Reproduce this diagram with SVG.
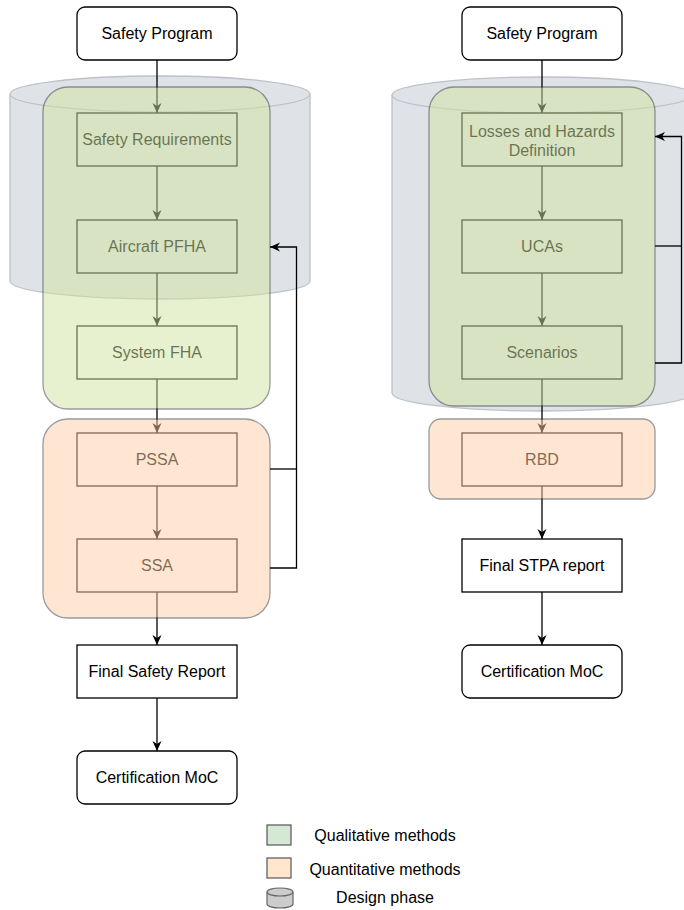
<svg xmlns="http://www.w3.org/2000/svg" width="684" height="910" viewBox="0 0 684 910">
<defs>
<style>
.box{fill:#fff;stroke:#000;stroke-width:1.3}
.inner{fill:none;stroke:#000;stroke-width:1.3}
.t{font-family:"Liberation Sans",Arial,Helvetica,sans-serif;font-size:16px;fill:#000;text-anchor:middle}
.edge{fill:none;stroke:#000;stroke-width:1.3}
.qual{fill:#d1e4a0;stroke:#36393d;stroke-width:1.3}
.quant{fill:#ffcfa6;stroke:#36393d;stroke-width:1.3}
.cyl{fill:#dfe3e8;stroke:#bcc2c9;stroke-width:1.3}
.cylf{fill:none;stroke:#bcc2c9;stroke-width:1.3}
</style>
<marker id="arr" viewBox="0 0 10 10" refX="10" refY="5" markerWidth="10" markerHeight="10" markerUnits="userSpaceOnUse" orient="auto">
<path d="M0,0.5 L10,5 L0,9.5 L3,5 Z" fill="#000"/>
</marker>
</defs>
<rect width="684" height="910" fill="#fff"/>

<g id="left-design-phase">
<path class="cyl" d="M10,94 A150,18 0 0 1 310,94 V281 A150,18 0 0 1 10,281 Z"/>
<path class="cylf" d="M10,94 A150,18 0 0 0 310,94"/>
</g>
<g id="right-design-phase">
<path class="cyl" d="M392,95 A150,18 0 0 1 692,95 V393 A150,18 0 0 1 392,393 Z"/>
<path class="cylf" d="M392,95 A150,18 0 0 0 692,95"/>
</g>

<g id="connectors-flow">
<path class="edge" d="M157,60 V113" marker-end="url(#arr)"/>
<path class="edge" d="M157,166 V220" marker-end="url(#arr)"/>
<path class="edge" d="M157,273 V326" marker-end="url(#arr)"/>
<path class="edge" d="M157,379 V433" marker-end="url(#arr)"/>
<path class="edge" d="M157,486 V539" marker-end="url(#arr)"/>
<path class="edge" d="M157,592 V645" marker-end="url(#arr)"/>
<path class="edge" d="M157,698 V751" marker-end="url(#arr)"/>
<path class="edge" d="M542,60 V113" marker-end="url(#arr)"/>
<path class="edge" d="M542,166 V220" marker-end="url(#arr)"/>
<path class="edge" d="M542,273 V326" marker-end="url(#arr)"/>
<path class="edge" d="M542,379 V433" marker-end="url(#arr)"/>
<path class="edge" d="M542,486 V539" marker-end="url(#arr)"/>
<path class="edge" d="M542,592 V645" marker-end="url(#arr)"/>
</g>

<g id="left-safety-program"><rect class="box" x="77" y="7" width="160" height="53" rx="8"/><text class="t" x="157" y="39">Safety Program</text></g>
<g id="safety-requirements"><rect class="inner" x="77" y="113" width="160" height="53"/><text class="t" x="157" y="145">Safety Requirements</text></g>
<g id="aircraft-pfha"><rect class="inner" x="77" y="220" width="160" height="53"/><text class="t" x="157" y="252">Aircraft PFHA</text></g>
<g id="system-fha"><rect class="inner" x="77" y="326" width="160" height="53"/><text class="t" x="157" y="358">System FHA</text></g>
<g id="pssa"><rect class="inner" x="77" y="433" width="160" height="53"/><text class="t" x="157" y="465">PSSA</text></g>
<g id="ssa"><rect class="inner" x="77" y="539" width="160" height="53"/><text class="t" x="157" y="571">SSA</text></g>
<g id="final-safety-report"><rect class="box" x="77" y="645" width="160" height="53"/><text class="t" x="157" y="677">Final Safety Report</text></g>
<g id="left-certification-moc"><rect class="box" x="77" y="751" width="160" height="53" rx="8"/><text class="t" x="157" y="783">Certification MoC</text></g>

<g id="right-safety-program"><rect class="box" x="462" y="7" width="160" height="53" rx="8"/><text class="t" x="542" y="39">Safety Program</text></g>
<g id="losses-hazards"><rect class="inner" x="462" y="113" width="160" height="53"/><text class="t" x="542" y="136.5">Losses and Hazards</text><text class="t" x="542" y="156">Definition</text></g>
<g id="ucas"><rect class="inner" x="462" y="220" width="160" height="53"/><text class="t" x="542" y="252">UCAs</text></g>
<g id="scenarios"><rect class="inner" x="462" y="326" width="160" height="53"/><text class="t" x="542" y="358">Scenarios</text></g>
<g id="rbd"><rect class="inner" x="462" y="433" width="160" height="53"/><text class="t" x="542" y="465">RBD</text></g>
<g id="final-stpa-report"><rect class="box" x="462" y="539" width="160" height="53"/><text class="t" x="542" y="571">Final STPA report</text></g>
<g id="right-certification-moc"><rect class="box" x="462" y="645" width="160" height="53" rx="8"/><text class="t" x="542" y="677">Certification MoC</text></g>

<g id="left-qualitative" opacity="0.5"><rect class="qual" x="43" y="87" width="227" height="322" rx="25"/></g>
<g id="left-quantitative" opacity="0.5"><rect class="quant" x="43" y="419" width="227" height="199" rx="25"/></g>
<g id="right-qualitative" opacity="0.5"><rect class="qual" x="429" y="87" width="226" height="319" rx="25"/></g>
<g id="right-quantitative" opacity="0.5"><rect class="quant" x="429" y="419" width="226" height="80" rx="12"/></g>

<g id="connectors-feedback">
<path class="edge" d="M270,469 H296.5"/>
<path class="edge" d="M270,568 H296.5 V247 H270" marker-end="url(#arr)"/>
<path class="edge" d="M655,246 H681.5"/>
<path class="edge" d="M655,363 H681.5 V136.5 H655" marker-end="url(#arr)"/>
</g>

<g id="legend">
<rect x="267" y="825" width="24" height="20" fill="#d5e8d4" stroke="#555" stroke-width="1.2"/>
<text class="t" x="385" y="841">Qualitative methods</text>
<rect x="267" y="858" width="24" height="20" fill="#ffe6cc" stroke="#555" stroke-width="1.2"/>
<text class="t" x="385" y="875">Quantitative methods</text>
<path d="M267,892 A13,4 0 0 1 293,892 V904 A13,4 0 0 1 267,904 Z" fill="#cccccc" stroke="#666" stroke-width="1.2"/>
<path d="M267,892 A13,4 0 0 0 293,892" fill="none" stroke="#666" stroke-width="1.2"/>
<text class="t" x="385" y="903">Design phase</text>
</g>
</svg>
